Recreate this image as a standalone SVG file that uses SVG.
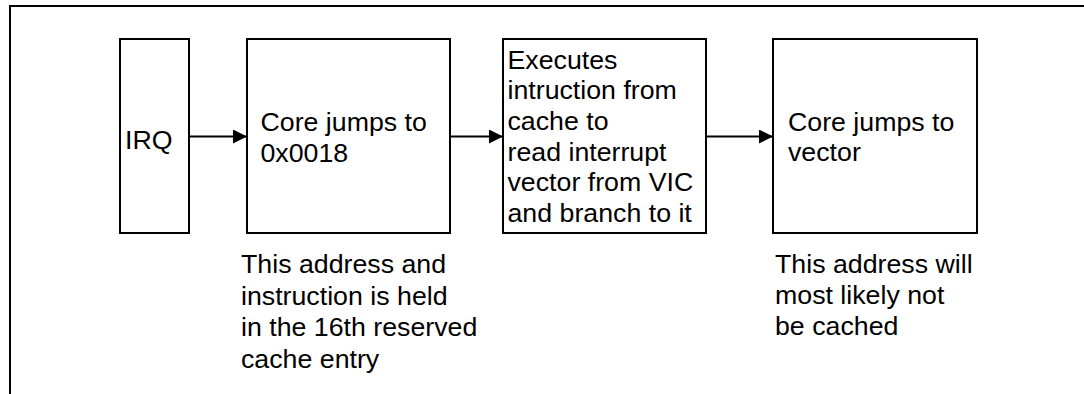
<svg xmlns="http://www.w3.org/2000/svg" width="1084" height="394" viewBox="0 0 1084 394">
  <defs>
    <style>
      .box { fill: #ffffff; stroke: #000000; stroke-width: 2; }
      .frame { fill: none; stroke: #000000; stroke-width: 2; }
      .edge { fill: none; stroke: #000000; stroke-width: 2; }
      .lbl { font-family: "Liberation Sans", Arial, Helvetica, sans-serif; font-size: 25px; fill: #000000; }
    </style>
    <marker id="arrow" viewBox="0 0 14 14" refX="14" refY="7" markerWidth="14" markerHeight="14" markerUnits="userSpaceOnUse" orient="auto">
      <path d="M0,0 L14,7 L0,14 Z" fill="#000000"/>
    </marker>
  </defs>

  <rect width="1084" height="394" fill="#ffffff"/>

  <!-- outer frame: top rule and left rule -->
  <path class="frame" d="M10,394 L10,6 L1084,6"/>

  <g id="irq">
    <rect class="box" x="120" y="39" width="69" height="194"/>
    <text class="lbl" transform="translate(125,148.5) scale(1.07,1)">IRQ</text>
  </g>

  <g id="jump-0018">
    <rect class="box" x="247" y="39" width="203" height="194"/>
    <text class="lbl" transform="translate(260.5,131) scale(1.07,1)">Core jumps to</text>
    <text class="lbl" transform="translate(260.5,161.5) scale(1.07,1)">0x0018</text>
  </g>

  <g id="execute">
    <rect class="box" x="503" y="39" width="203" height="194"/>
    <text class="lbl" transform="translate(507.5,68.5) scale(1.07,1)">Executes</text>
    <text class="lbl" transform="translate(507.5,99.2) scale(1.07,1)">intruction from</text>
    <text class="lbl" transform="translate(507.5,129.9) scale(1.07,1)">cache to</text>
    <text class="lbl" transform="translate(507.5,160.6) scale(1.07,1)">read interrupt</text>
    <text class="lbl" transform="translate(507.5,191.3) scale(1.07,1)">vector from VIC</text>
    <text class="lbl" transform="translate(507.5,222) scale(1.07,1)">and branch to it</text>
  </g>

  <g id="jump-vector">
    <rect class="box" x="773" y="39" width="204" height="194"/>
    <text class="lbl" transform="translate(788,131) scale(1.07,1)">Core jumps to</text>
    <text class="lbl" transform="translate(788,161) scale(1.07,1)">vector</text>
  </g>

  <g id="note-cached">
    <text class="lbl" transform="translate(241,273) scale(1.07,1)">This address and</text>
    <text class="lbl" transform="translate(241,304.5) scale(1.07,1)">instruction is held</text>
    <text class="lbl" transform="translate(241,336) scale(1.07,1)">in the 16th reserved</text>
    <text class="lbl" transform="translate(241,367.5) scale(1.07,1)">cache entry</text>
  </g>

  <g id="note-uncached">
    <text class="lbl" transform="translate(775,273) scale(1.07,1)">This address will</text>
    <text class="lbl" transform="translate(775,304) scale(1.07,1)">most likely not</text>
    <text class="lbl" transform="translate(775,335) scale(1.07,1)">be cached</text>
  </g>

  <g id="connectors">
    <line class="edge" x1="189" y1="136.5" x2="247" y2="136.5" marker-end="url(#arrow)"/>
    <line class="edge" x1="450" y1="136.5" x2="503" y2="136.5" marker-end="url(#arrow)"/>
    <line class="edge" x1="706" y1="136.5" x2="773" y2="136.5" marker-end="url(#arrow)"/>
  </g>
</svg>
